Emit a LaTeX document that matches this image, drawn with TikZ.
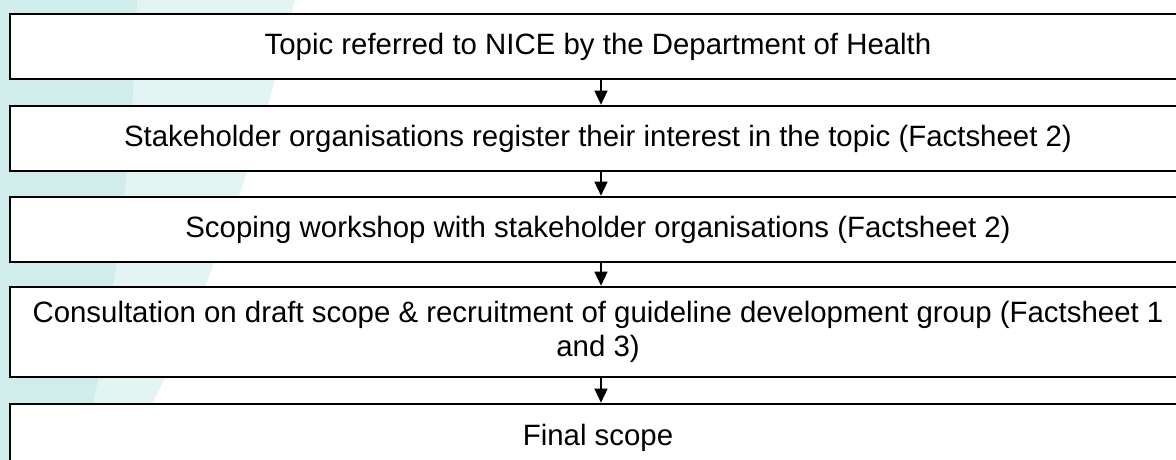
\documentclass[tikz,border=0pt]{standalone}
\usepackage{fontspec}
\setmainfont{Liberation Sans}
\usetikzlibrary{arrows.meta}
\definecolor{bandDark}{RGB}{208,237,236}
\definecolor{bandLight}{RGB}{227,244,243}
\tikzset{
  stepbox/.style={draw=black, line width=1.6pt, fill=white, minimum width=1176pt,
    inner sep=0pt, align=center, font=\fontsize{29.4}{33.5}\selectfont},
  flow/.style={line width=1.4pt, -{Triangle[width=13pt,length=14pt]}, shorten >=0.5pt}
}
\begin{document}
\begin{tikzpicture}[x=1pt, y=-1pt]
  \useasboundingbox (0,0) rectangle (1176,460);
  \clip (0,0) rectangle (1176,460);
  % soft teal bands along the left edge
  \fill[bandLight] (0,-2) -- (295,-2)
    .. controls (270,120) and (200,330) .. (120,462) -- (0,462) -- cycle;
  \fill[bandDark] (0,-2) -- (137,-2)
    .. controls (134,140) and (115,320) .. (80,462) -- (0,462) -- cycle;
  % process steps
  \node[stepbox, minimum height=65pt] (b1) at (598,46.5)
    {Topic referred to NICE by the Department of Health};
  \node[stepbox, minimum height=65pt] (b2) at (598,138.5)
    {Stakeholder organisations register their interest in the topic (Factsheet 2)};
  \node[stepbox, minimum height=65pt] (b3) at (598,229.5)
    {Scoping workshop with stakeholder organisations (Factsheet 2)};
  \node[stepbox, minimum height=90pt] (b4) at (598,332)
    {Consultation on draft scope \& recruitment of guideline development group (Factsheet 1\\and 3)};
  \node[stepbox, minimum height=67pt] (b5) at (598,437.5)
    {Final scope};
  % connectors
  \foreach \a/\b in {b1/b2, b2/b3, b3/b4, b4/b5}
    \draw[flow] ([xshift=3pt]\a.south) -- ([xshift=3pt]\b.north);
\end{tikzpicture}
\end{document}
